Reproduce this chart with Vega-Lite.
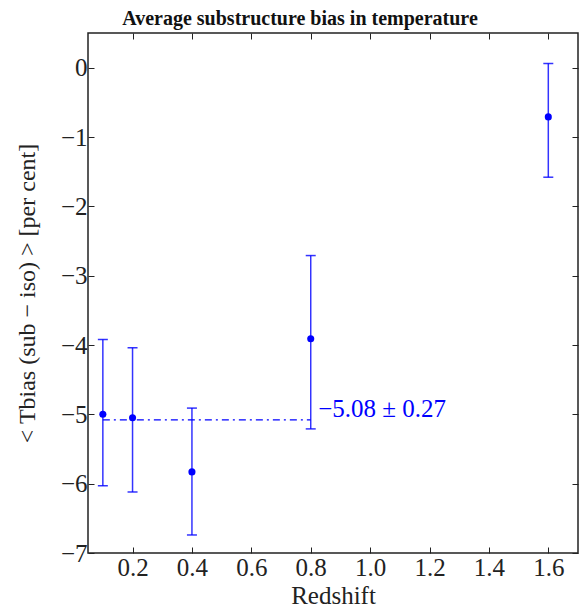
{
  "$schema": "https://vega.github.io/schema/vega-lite/v6.json",
  "width": 490,
  "height": 520,
  "autosize": {"type": "none"},
  "padding": {"left": 88, "top": 33, "right": 1, "bottom": 55},
  "background": "white",
  "config": {
    "font": "Liberation Serif",
    "view": {"stroke": "#222222", "strokeWidth": 1.5},
    "axis": {"grid": false, "domain": false, "labelFont": "Liberation Serif", "titleFont": "Liberation Serif", "labelFontSize": 25, "titleFontSize": 24, "labelColor": "#222222", "titleColor": "#222222", "titleFontWeight": "normal", "tickColor": "#222222", "tickSize": -6, "tickWidth": 1}
  },
  "title": {"text": "Average substructure bias in temperature", "font": "Liberation Serif", "fontSize": 20, "fontWeight": "bold", "color": "#111111", "offset": 4, "dx": -33},
  "datasets": {
    "pts": [
      {"z": 0.1, "bias": -5.00, "lo": -6.03, "hi": -3.92},
      {"z": 0.2, "bias": -5.05, "lo": -6.12, "hi": -4.04},
      {"z": 0.4, "bias": -5.83, "lo": -6.74, "hi": -4.91},
      {"z": 0.8, "bias": -3.91, "lo": -5.21, "hi": -2.71},
      {"z": 1.6, "bias": -0.71, "lo": -1.58, "hi": 0.06}
    ],
    "mean": [
      {"z": 0.1, "v": -5.08},
      {"z": 0.8, "v": -5.08}
    ],
    "lab": [
      {"z": 0.825, "v": -4.93, "t": "−5.08 ± 0.27"}
    ]
  },
  "layer": [
    {
      "mark": {"type": "rule", "color": "black", "strokeDash": [7, 5], "strokeWidth": 1.3},
      "encoding": {"y": {"datum": 0, "type": "quantitative", "axis": null}}
    },
    {
      "data": {"name": "mean"},
      "mark": {"type": "line", "color": "#0000ff", "strokeDash": [7, 4, 2, 4], "strokeWidth": 1.2},
      "encoding": {
        "x": {"field": "z", "type": "quantitative", "scale": {"domain": [0.05, 1.7], "nice": false, "zero": false},
          "axis": {"orient": "bottom", "values": [0.2, 0.4, 0.6, 0.8, 1.0, 1.2, 1.4, 1.6], "format": ".1f", "title": "Redshift", "labelFontSize": 25, "titleFontSize": 25, "labelPadding": 8, "titlePadding": 3}},
        "y": {"field": "v", "type": "quantitative", "scale": {"domain": [-7, 0.5], "nice": false, "zero": false},
          "axis": {"orient": "left", "values": [-7, -6, -5, -4, -3, -2, -1, 0], "title": "< Tbias (sub − iso) > [per cent]", "labelFontSize": 25, "titleFontSize": 24, "labelPadding": 7, "titlePadding": 21}}
      }
    },
    {
      "data": {"name": "pts"},
      "mark": {"type": "rule", "color": "#0000ff", "strokeWidth": 1.5, "opacity": 0.8},
      "encoding": {
        "x": {"field": "z", "type": "quantitative", "axis": {"orient": "top", "values": [0.2, 0.4, 0.6, 0.8, 1.0, 1.2, 1.4, 1.6], "labels": false, "title": null}},
        "y": {"field": "lo", "type": "quantitative", "axis": {"orient": "right", "values": [-7, -6, -5, -4, -3, -2, -1, 0], "labels": false, "title": null}},
        "y2": {"field": "hi"}
      }
    },
    {
      "data": {"name": "pts"},
      "mark": {"type": "tick", "color": "#0000ff", "orient": "horizontal", "size": 10, "thickness": 1.5, "opacity": 0.8},
      "encoding": {
        "x": {"field": "z", "type": "quantitative", "axis": null},
        "y": {"field": "lo", "type": "quantitative", "axis": null}
      }
    },
    {
      "data": {"name": "pts"},
      "mark": {"type": "tick", "color": "#0000ff", "orient": "horizontal", "size": 10, "thickness": 1.5, "opacity": 0.8},
      "encoding": {
        "x": {"field": "z", "type": "quantitative", "axis": null},
        "y": {"field": "hi", "type": "quantitative", "axis": null}
      }
    },
    {
      "data": {"name": "pts"},
      "mark": {"type": "point", "filled": true, "color": "#0000ff", "size": 50, "opacity": 1},
      "encoding": {
        "x": {"field": "z", "type": "quantitative", "axis": null},
        "y": {"field": "bias", "type": "quantitative", "axis": null}
      }
    },
    {
      "data": {"name": "lab"},
      "mark": {"type": "text", "color": "#0000ff", "align": "left", "baseline": "middle", "fontSize": 25, "font": "Liberation Serif"},
      "encoding": {
        "x": {"field": "z", "type": "quantitative", "axis": null},
        "y": {"field": "v", "type": "quantitative", "axis": null},
        "text": {"field": "t"}
      }
    }
  ]
}
